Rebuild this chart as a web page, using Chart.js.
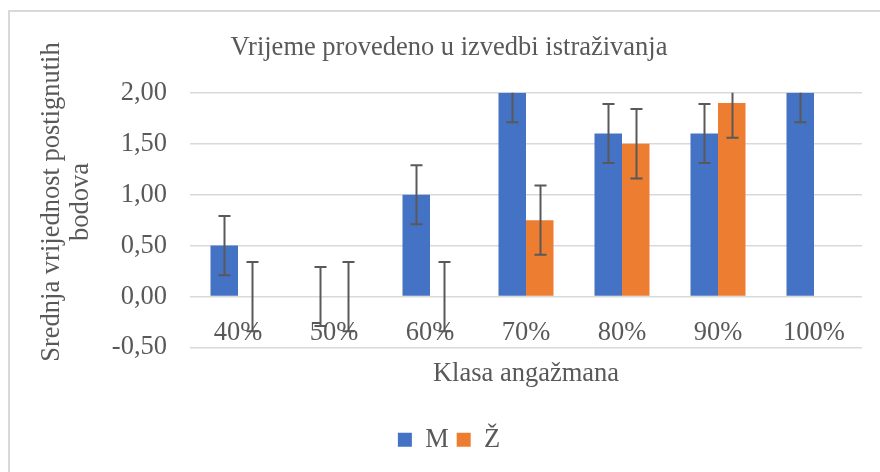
<!DOCTYPE html>
<html>
<head>
<meta charset="utf-8">
<script src="https://cdn.jsdelivr.net/npm/chart.js@4/dist/chart.umd.min.js"></script>
<style>
  html, body { margin: 0; padding: 0; background: #ffffff; }
  #wrap { width: 880px; height: 472px; }
</style>
</head>
<body>
<div id="wrap"><canvas id="chart" width="880" height="472"></canvas></div>
<script>
// Engagement classes and mean scores by gender
const categories = ['40%', '50%', '60%', '70%', '80%', '90%', '100%'];
const valuesM = [0.5, 0, 1.0, 2.0, 1.6, 1.6, 2.0];
const valuesZ = [0, 0, 0, 0.75, 1.5, 1.9, null];
const errorM = [0.29, 0.29, 0.29, 0.29, 0.29, 0.29, 0.29];
const errorZ = [0.34, 0.34, 0.34, 0.34, 0.34, 0.34, null];
const yTicks = [-0.5, 0, 0.5, 1.0, 1.5, 2.0];

const chartTitle = 'Vrijeme provedeno u izvedbi istraživanja';
const xTitle = 'Klasa angažmana';
const yTitle = ['Srednja vrijednost postignutih', 'bodova'];

const FONT = "'Liberation Serif', 'Times New Roman', serif";
const TEXT = '#595959';
const SIZE = 26.5;

// White background and the light frame around the chart
const framePlugin = {
  id: 'frame',
  beforeDraw(chart) {
    const ctx = chart.ctx;
    ctx.save();
    ctx.fillStyle = '#ffffff';
    ctx.fillRect(0, 0, chart.width, chart.height);
    ctx.strokeStyle = '#d9d9d9';
    ctx.lineWidth = 2;
    ctx.strokeRect(9, 11, chart.width + 20, chart.height + 20);
    ctx.restore();
  }
};

// Vertical error bars with caps, clipped to the plot area
const errorBarPlugin = {
  id: 'errorBars',
  afterDatasetsDraw(chart) {
    const ctx = chart.ctx;
    const area = chart.chartArea;
    const yScale = chart.scales.y;
    ctx.save();
    ctx.beginPath();
    ctx.rect(area.left, area.top, area.right - area.left, area.bottom - area.top);
    ctx.clip();
    ctx.strokeStyle = '#595959';
    ctx.lineWidth = 2;
    chart.data.datasets.forEach((ds, i) => {
      const meta = chart.getDatasetMeta(i);
      meta.data.forEach((bar, j) => {
        const v = ds.data[j];
        const e = ds.errors[j];
        if (v === null || e === null || e === undefined) return;
        const x = Math.round(bar.x) + 0.5;
        const yHi = yScale.getPixelForValue(v + e);
        const yLo = yScale.getPixelForValue(v - e);
        const cap = 6;
        ctx.beginPath();
        ctx.moveTo(x, yHi);
        ctx.lineTo(x, yLo);
        ctx.moveTo(x - cap, yHi);
        ctx.lineTo(x + cap, yHi);
        ctx.moveTo(x - cap, yLo);
        ctx.lineTo(x + cap, yLo);
        ctx.stroke();
      });
    });
    ctx.restore();
  }
};

// Two-line rotated title of the value axis
const yTitlePlugin = {
  id: 'yTitle',
  afterDraw(chart) {
    const ctx = chart.ctx;
    ctx.save();
    ctx.fillStyle = TEXT;
    ctx.font = SIZE + 'px ' + FONT;
    ctx.textAlign = 'center';
    ctx.textBaseline = 'middle';
    ctx.translate(52, 202);
    ctx.rotate(-Math.PI / 2);
    yTitle.forEach((line, k) => ctx.fillText(line, 0, k * 29));
    ctx.restore();
  }
};

new Chart(document.getElementById('chart'), {
  type: 'bar',
  data: {
    labels: categories,
    datasets: [
      { label: 'M', data: valuesM, errors: errorM, backgroundColor: '#4472c4', borderWidth: 0 },
      { label: 'Ž', data: valuesZ, errors: errorZ, backgroundColor: '#ed7d31', borderWidth: 0 }
    ]
  },
  options: {
    responsive: false,
    animation: false,
    events: [],
    categoryPercentage: 0.573,
    barPercentage: 1.0,
    layout: { padding: { left: 36, right: 18, top: 0, bottom: 9 } },
    plugins: {
      title: {
        display: true,
        text: chartTitle,
        color: TEXT,
        font: { family: FONT, size: SIZE, weight: 'normal', lineHeight: 1.2 },
        padding: { top: 32, bottom: 29 }
      },
      legend: {
        position: 'bottom',
        labels: {
          color: TEXT,
          font: { family: FONT, size: SIZE },
          boxWidth: 14,
          boxHeight: 14,
          padding: 8
        }
      },
      tooltip: { enabled: false }
    },
    scales: {
      x: {
        grid: { display: false, drawTicks: false },
        border: { display: false },
        ticks: {
          color: TEXT,
          font: { family: FONT, size: SIZE, lineHeight: 1.2 },
          mirror: true,
          padding: -1,
          maxRotation: 0,
          autoSkip: false
        },
        title: {
          display: true,
          text: xTitle,
          color: TEXT,
          font: { family: FONT, size: SIZE, lineHeight: 1.2 },
          padding: { top: 0, bottom: 29 }
        },
        afterFit(scale) { scale.height = 71; }
      },
      y: {
        min: -0.5,
        max: 2.0,
        afterBuildTicks(scale) { scale.ticks = yTicks.map(v => ({ value: v })); },
        grid: { color: '#d9d9d9', lineWidth: 1.5, drawTicks: false },
        border: { display: false },
        ticks: {
          color: TEXT,
          font: { family: FONT, size: SIZE },
          padding: 23,
          callback: (v) => Number(v).toFixed(2).replace('.', ',')
        },
        afterFit(scale) { scale.width = 154; }
      }
    }
  },
  plugins: [framePlugin, errorBarPlugin, yTitlePlugin]
});
</script>
</body>
</html>
